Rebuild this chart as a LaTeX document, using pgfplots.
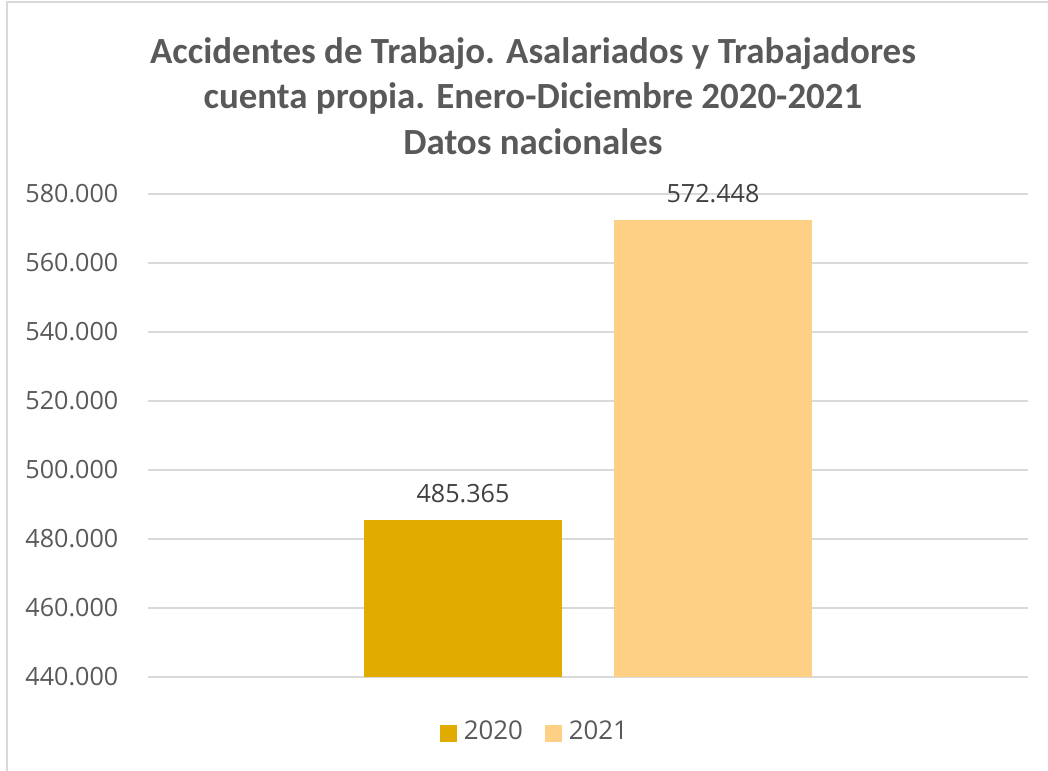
\documentclass[border=0pt]{standalone}
\usepackage{fontspec}
\setmainfont{Open Sans}
\newfontfamily\titlefont{Carlito}
\usepackage{pgfplots}
\pgfplotsset{compat=1.18}
\definecolor{Gold}{HTML}{E2AB00}
\definecolor{Sand}{HTML}{FED086}
\definecolor{TxtGray}{HTML}{595959}
\definecolor{LblGray}{HTML}{404040}
\definecolor{Line}{HTML}{D9D9D9}

\begin{document}
\begin{tikzpicture}
% reference pixels = 0.1mm, y measured from the bottom
\begin{scope}[x=0.1mm,y=0.1mm]
\path[use as bounding box] (0,0) rectangle (1048,771);
\draw[Line,line width=0.2mm] (1048,769) -- (7,769) -- (7,0);
\node[align=center,text=TxtGray,font=\titlefont\bfseries\fontsize{10.5}{12.9}\selectfont]
  at (533,675) {Accidentes de Trabajo. Asalariados y Trabajadores\\cuenta propia. Enero-Diciembre 2020-2021\\Datos nacionales};
\end{scope}
\begin{axis}[
  at={(14.8mm,9.4mm)},anchor=south west,
  scale only axis,width=88mm,height=48.3mm,
  ybar,
  xmin=-440,xmax=440,ymin=440000,ymax=580000,
  ytick={440000,460000,480000,500000,520000,540000,560000,580000},
  xtick=\empty,
  axis line style={draw=none},
  major tick length=0pt,
  ymajorgrids=true,grid style={Line,line width=0.15mm},
  /pgf/number format/assume math mode=true,
  /pgf/number format/.cd,fixed,precision=0,1000 sep={.},
  /pgfplots/.cd,
  scaled y ticks=false,
  yticklabel style={font=\fontsize{7.15}{8.5}\selectfont,text=TxtGray,inner sep=0pt,anchor=east,xshift=-2.9mm},
  bar width=198,
  nodes near coords,
  nodes near coords style={font=\fontsize{7.15}{8.5}\selectfont,text=LblGray,anchor=base,inner sep=0pt,yshift=1.8mm},
  legend columns=2,
  legend style={at={(0.4425,-0.116)},anchor=center,draw=none,fill=none,
    font=\fontsize{7.35}{8.5}\selectfont,text=TxtGray,inner sep=0pt,
    /tikz/every even column/.append style={column sep=1.5mm}},
  legend image code/.code={\fill (0mm,-0.85mm) rectangle (1.7mm,0.85mm);},
]
\addplot[fill=Gold,draw=none,bar shift=0] coordinates {(-125,485365)};
\addlegendentry{2020}
\addplot[fill=Sand,draw=none,bar shift=0] coordinates {(125,572448)};
\addlegendentry{2021}
\end{axis}
\end{tikzpicture}
\end{document}
